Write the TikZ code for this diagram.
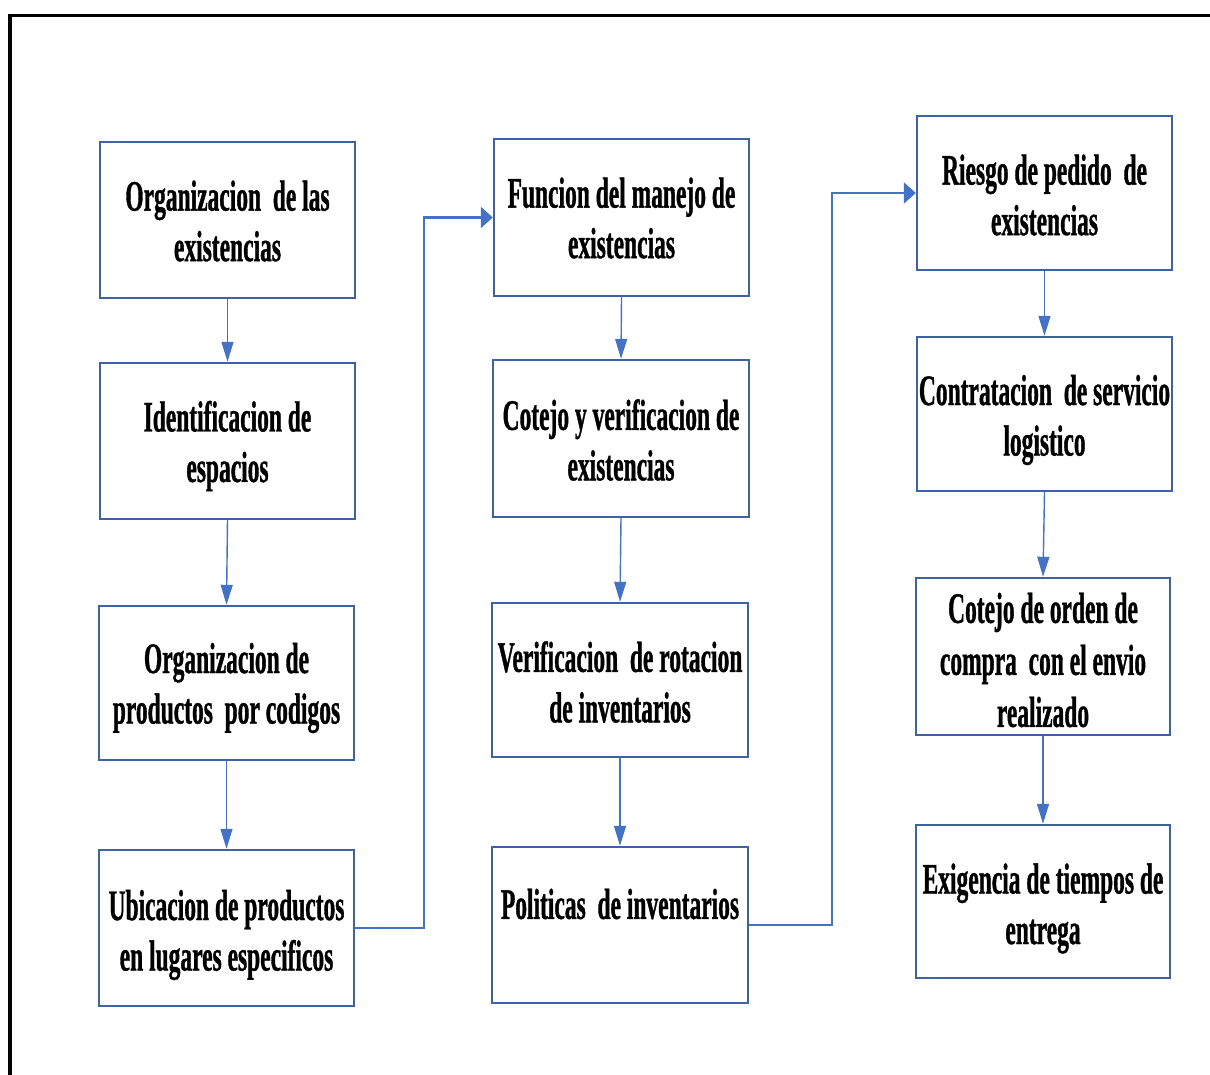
\documentclass[tikz,border=0pt]{standalone}
\usepackage{fontspec}
\newfontfamily\boxfont{Liberation Serif}[FakeStretch=0.54,BoldFeatures={FakeBold=0.8}]
\usetikzlibrary{arrows.meta}
\definecolor{boxblue}{RGB}{62,98,162}
\definecolor{arrblue}{RGB}{68,114,196}
\begin{document}
\begin{tikzpicture}[x=1pt,y=-1pt,
  stepbox/.style={draw=boxblue,line width=2.4pt,minimum width=255pt,minimum height=156pt,inner sep=0pt},
  plaintxt/.style={inner sep=0pt,align=center,font=\boxfont\bfseries\fontsize{43.5}{50.5}\selectfont},
  vconn/.style={draw=arrblue,line width=1.4pt,-{Triangle[length=20pt,width=12pt]}},
  econn/.style={draw=arrblue,line width=2.4pt,-{Triangle[length=12pt,width=21pt]}}]
\useasboundingbox (0,0) rectangle (1210,1075);
% frame
\draw[line width=3.5pt,line join=miter] (10,1080) -- (10,15.5) -- (1215,15.5);
% column 1
\node[stepbox] (b1) at (227.5,220) {};
\node[plaintxt] (b1t) at (227.5,221) {Organizacion~ de las\\existencias};
\node[stepbox] (b2) at (227.5,441) {};
\node[plaintxt] (b2t) at (227.5,446) {Identificacion de\\espacios};
\node[stepbox,minimum height=154pt] (b3) at (226.5,683) {};
\node[plaintxt] (b3t) at (226.5,688) {Organizacion de\\productos~ por codigos};
\node[stepbox] (b4) at (226.5,928) {};
\node[plaintxt] (b4t) at (226.5,935) {Ubicacion de productos\\en lugares especificos};
% column 2
\node[stepbox,minimum height=157pt] (c1) at (621.5,217.5) {};
\node[plaintxt] (c1t) at (621.5,218) {Funcion del manejo de\\existencias};
\node[stepbox,minimum height=157pt,minimum width=256pt] (c2) at (621,438.5) {};
\node[plaintxt] (c2t) at (621,440) {Cotejo y verificacion de\\existencias};
\node[stepbox,minimum height=154pt,minimum width=256pt] (c3) at (620,680) {};
\node[plaintxt] (c3t) at (620,682) {Verificacion~ de rotacion\\de inventarios};
\node[stepbox,minimum width=256pt] (c4) at (620,925) {};
\node[plaintxt] (c4t) at (620,904) {Politicas~ de inventarios};
% column 3
\node[stepbox,minimum height=154pt] (d1) at (1044.5,193) {};
\node[plaintxt] (d1t) at (1044.5,195) {Riesgo de pedido~ de\\existencias};
\node[stepbox,minimum height=154pt] (d2) at (1044.5,414) {};
\node[plaintxt] (d2t) at (1044.5,420) {Contratacion~ de servicio\\logistico};
\node[stepbox,minimum height=157pt,minimum width=254pt] (d3) at (1043,656.5) {};
\node[plaintxt,font=\boxfont\bfseries\fontsize{43.5}{52}\selectfont] (d3t) at (1043,660) {Cotejo de orden de\\compra~ con el envio\\realizado};
\node[stepbox,minimum height=153pt,minimum width=254pt] (d4) at (1043,901.5) {};
\node[plaintxt] (d4t) at (1043,908.5) {Exigencia de tiempos de\\entrega};
% connectors
\draw[vconn] (b1.south) -- (b2.north);
\draw[vconn] (b2.south) -- (b3.north);
\draw[vconn] (b3.south) -- (b4.north);
\draw[econn] (b4.east) -- (424,928) |- (c1.west);
\draw[vconn] (c1.south) -- (c2.north);
\draw[vconn] (c2.south) -- (c3.north);
\draw[vconn] (c3.south) -- (c4.north);
\draw[econn] (c4.east) -- (832,925) |- (d1.west);
\draw[vconn] (d1.south) -- (d2.north);
\draw[vconn] (d2.south) -- (d3.north);
\draw[vconn] (d3.south) -- (d4.north);
\end{tikzpicture}
\end{document}
